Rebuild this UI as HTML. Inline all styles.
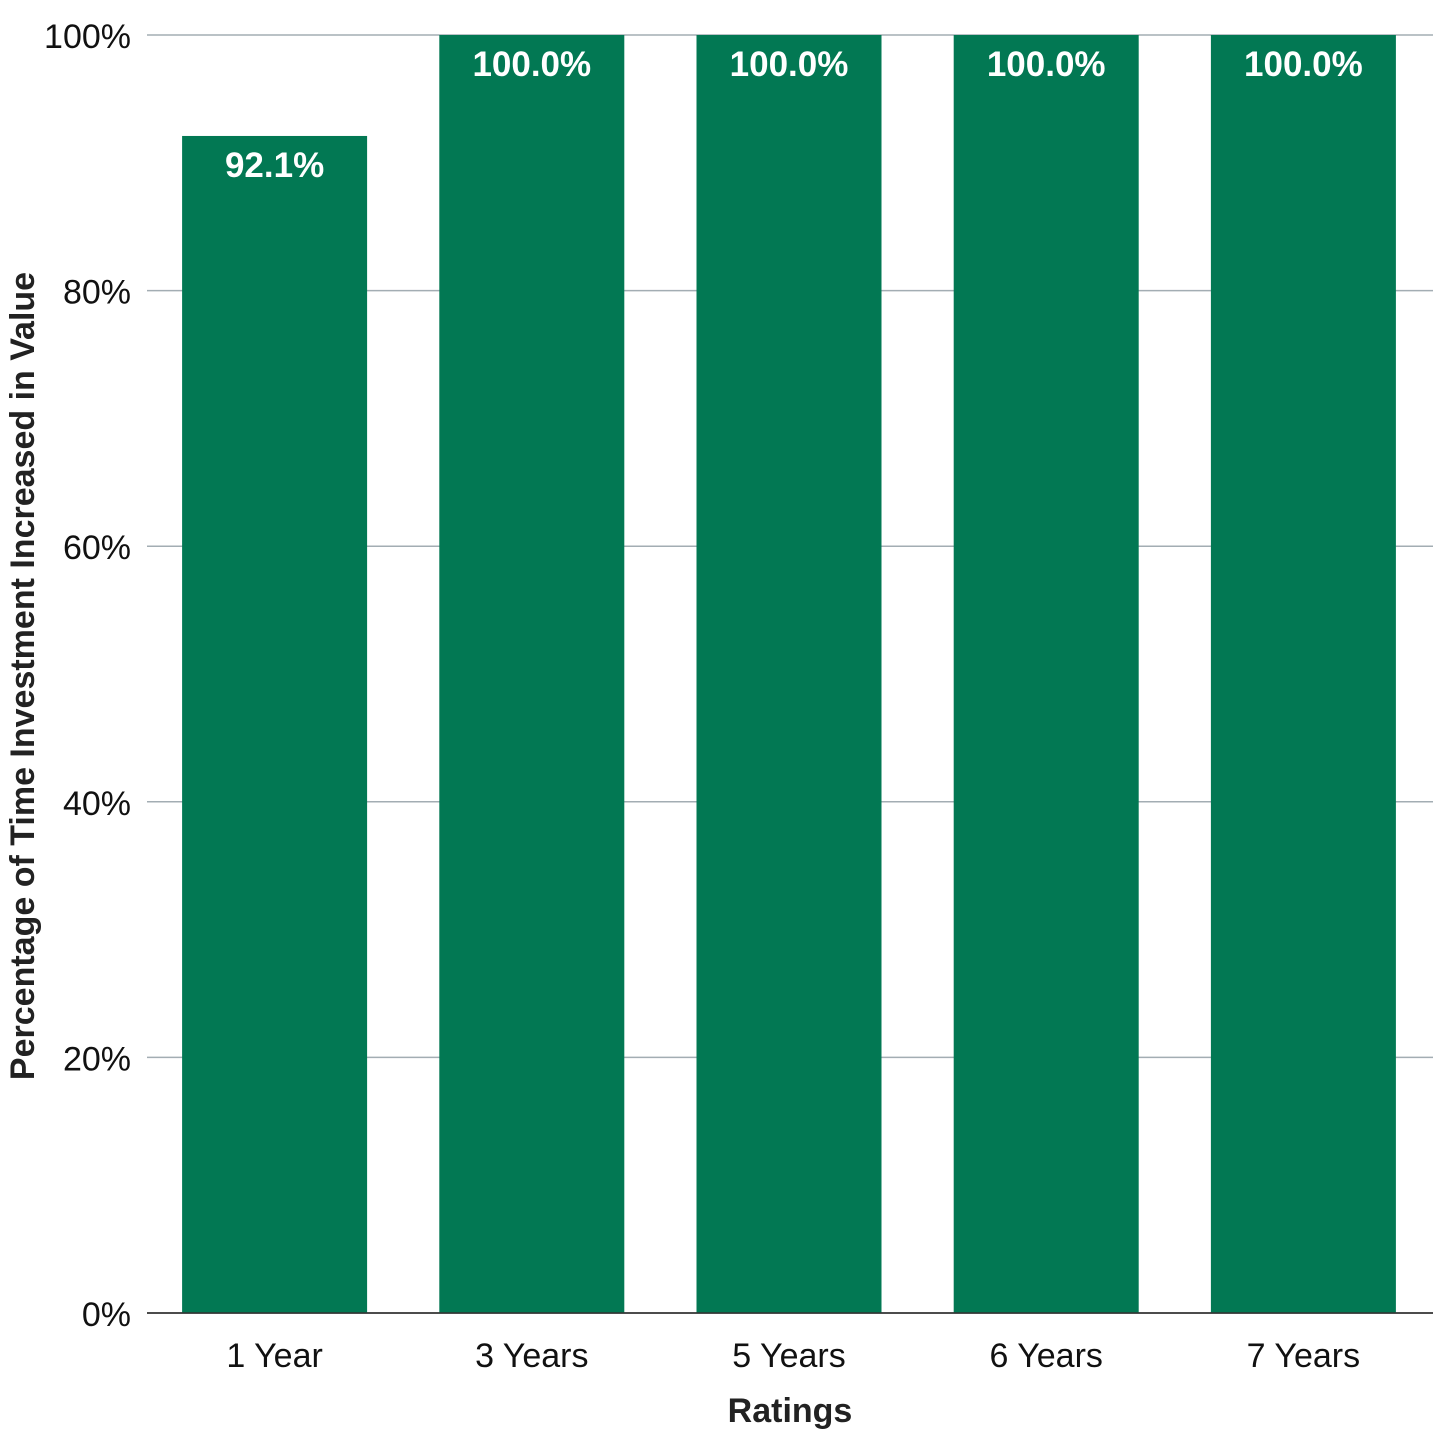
<!DOCTYPE html>
<html><head><meta charset="utf-8"><style>
html,body{margin:0;padding:0;background:#fff;}
svg{display:block;font-family:"Liberation Sans",sans-serif;}
</style></head><body>
<svg id="chart" width="1440" height="1440" xmlns="http://www.w3.org/2000/svg">
<text transform="translate(34,676) rotate(-90)" text-anchor="middle" font-size="34" font-weight="bold" fill="#222">Percentage of Time Investment Increased in Value</text>
<text x="790" y="1422" text-anchor="middle" font-size="34" font-weight="bold" fill="#222">Ratings</text>
<g id="grid"></g><g id="bars"></g><g id="xt"></g>
</svg>
<script>
const categories = ["1 Year","3 Years","5 Years","6 Years","7 Years"];
const values = [92.1,100,100,100,100];
const valueLabels = ["92.1%","100.0%","100.0%","100.0%","100.0%"];
const yTicks = [0,20,40,60,80,100];
const yTickLabels = ["0%","20%","40%","60%","80%","100%"];
const NS="http://www.w3.org/2000/svg";
const L=147,R=1433,T=35,B=1313;
const y=v=>B-(B-T)*v/100;
const band=(R-L)/categories.length, bw=185;
const x=i=>L+band*i+band/2;
function mk(tag,attrs,parent,text){const e=document.createElementNS(NS,tag);for(const k in attrs)e.setAttribute(k,attrs[k]);if(text!==undefined)e.textContent=text;parent.appendChild(e);return e;}
const grid=document.getElementById('grid'),bars=document.getElementById('bars'),xt=document.getElementById('xt');
yTicks.forEach((t,i)=>{
  const ln=mk('line',{x1:L,x2:R,y1:y(t),y2:y(t),stroke:t===0?'#333':'#a3adb3','stroke-width':t===0?1.5:1.5},grid);
  
  
  const tx=mk('text',{x:131,y:y(t)+13,'text-anchor':'end','font-size':34,fill:'#111'},grid,yTickLabels[i]);
  
  
});
categories.forEach((c,i)=>{
  const r=mk('rect',{x:x(i)-bw/2-1,y:y(values[i]),width:bw,height:B-y(values[i]),fill:'#027853'},bars);
  
  
  const vl=mk('text',{x:x(i)-1,y:y(values[i])+41,'text-anchor':'middle','font-size':35,'font-weight':'bold',fill:'#fff'},bars,valueLabels[i]);
  
  
  const xl=mk('text',{x:x(i)-1,y:1367,'text-anchor':'middle','font-size':34,fill:'#111'},xt,c);
  
  
});
// baseline on top
const base=mk('line',{x1:L,x2:R,y1:B,y2:B,stroke:'#333','stroke-width':1.5},document.getElementById('chart'));


</script>
</body></html>
